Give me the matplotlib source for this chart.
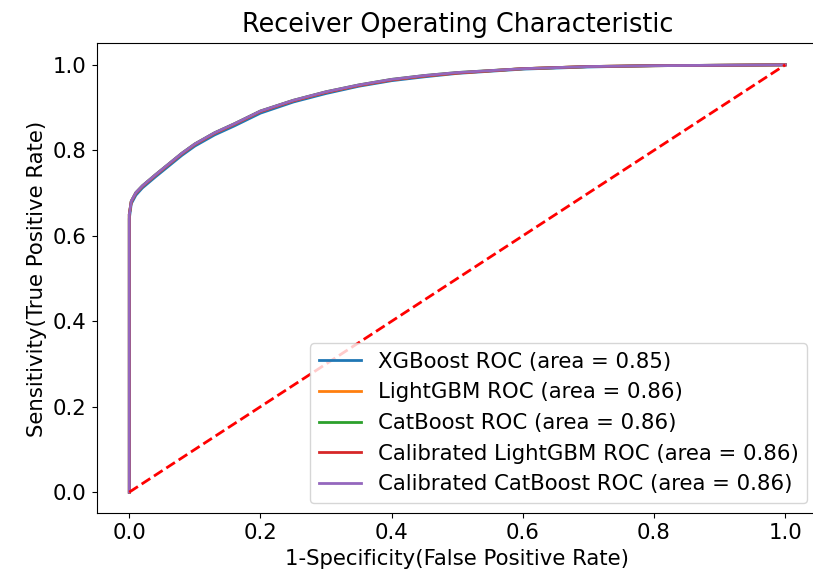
import matplotlib
matplotlib.use("Agg")
import matplotlib.pyplot as plt

# ROC points (false positive rate, true positive rate)
fpr = [0.0, 0.0, 0.003, 0.01, 0.02, 0.04, 0.06, 0.08, 0.10, 0.13, 0.16, 0.20,
       0.25, 0.30, 0.35, 0.40, 0.45, 0.50, 0.60, 0.70, 0.80, 0.90, 1.0]
tpr_xgb = [0.0, 0.64, 0.675, 0.695, 0.712, 0.738, 0.763, 0.788, 0.810, 0.836,
           0.857, 0.887, 0.913, 0.933, 0.950, 0.963, 0.972, 0.980, 0.990, 0.995,
           0.998, 0.999, 1.0]
tpr_lgbm = [0.0, 0.65, 0.680, 0.700, 0.716, 0.742, 0.767, 0.792, 0.814, 0.840,
            0.861, 0.891, 0.916, 0.936, 0.952, 0.965, 0.974, 0.981, 0.991, 0.996,
            0.998, 0.999, 1.0]
tpr_cat = [0.0, 0.65, 0.681, 0.701, 0.717, 0.743, 0.768, 0.793, 0.815, 0.841,
           0.862, 0.892, 0.917, 0.937, 0.953, 0.966, 0.975, 0.982, 0.991, 0.996,
           0.998, 0.999, 1.0]
tpr_cal_lgbm = [0.0, 0.65, 0.680, 0.700, 0.716, 0.742, 0.767, 0.792, 0.814, 0.840,
                0.861, 0.891, 0.916, 0.936, 0.952, 0.965, 0.974, 0.981, 0.991,
                0.996, 0.998, 0.999, 1.0]
tpr_cal_cat = [0.0, 0.65, 0.681, 0.701, 0.717, 0.743, 0.768, 0.793, 0.815, 0.841,
               0.862, 0.892, 0.917, 0.937, 0.953, 0.966, 0.975, 0.982, 0.991,
               0.996, 0.998, 0.999, 1.0]

labels = ["XGBoost", "LightGBM", "CatBoost", "Calibrated LightGBM", "Calibrated CatBoost"]
aucs = [0.85, 0.86, 0.86, 0.86, 0.86]
tprs = [tpr_xgb, tpr_lgbm, tpr_cat, tpr_cal_lgbm, tpr_cal_cat]

plt.rcParams["font.size"] = 15.3

fig = plt.figure(figsize=(8.13, 5.82), dpi=100)
ax = fig.add_axes([0.1187, 0.1177, 0.8875, 0.8076])

for name, auc, tpr in zip(labels, aucs, tprs):
    ax.plot(fpr, tpr, lw=2, label="%s ROC (area = %0.2f)" % (name, auc))

ax.plot([0, 1], [0, 1], "r--", lw=2)   # 对角线
ax.set_xlim(-0.05, 1.05)
ax.set_ylim(-0.05, 1.05)
ax.set_xlabel("1-Specificity(False Positive Rate)")
ax.set_ylabel("Sensitivity(True Positive Rate)")
ax.set_title("Receiver Operating Characteristic", fontsize=18.4, pad=8)
ax.legend(loc="lower right")

fig.savefig("out.png", dpi=100)
